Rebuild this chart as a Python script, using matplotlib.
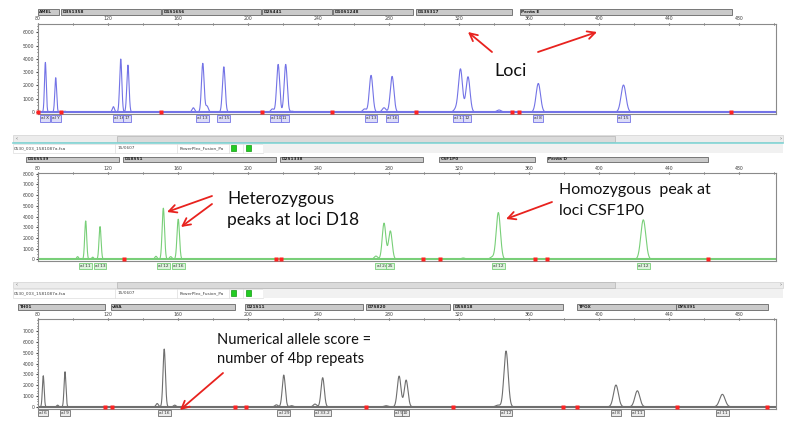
import numpy as np
import matplotlib
matplotlib.use('Agg')
import matplotlib.pyplot as plt
from matplotlib.patches import Rectangle
from matplotlib.ticker import MultipleLocator

# --- data (bp positions, RFU heights) ---

# blue dye panel
loci1 = ['AMEL', 'D3S1358', 'D1S1656', 'D2S441', 'D10S1248', 'D13S317', 'Penta E']
loci1_start = [80.0, 93.0, 151.0, 208.0, 248.5, 295.6, 355.0]
loci1_end = [92.0, 150.0, 207.0, 247.5, 294.0, 350.4, 476.0]
peaks1 = [84.2, 90.1, 127.2, 131.3, 174.0, 186.0, 217.0, 221.3, 270.0, 282.0, 321.0, 325.3, 365.4, 414.0]
heights1 = [3730, 2580, 3985, 3530, 3660, 3400, 3580, 3580, 2760, 2680, 3230, 2650, 2150, 2030]
alleles1 = ['al X', 'al Y', 'al 16', '17', 'al 13', 'al 15', 'al 10', '11', 'al 13', 'al 16', 'al 11', '12', 'al 8', 'al 15']
stutter1 = [95.4, 123.0, 168.6, 176.4, 213.7, 225.0, 266.3, 277.4, 318.4, 343.0]
stutter1_h = [60, 400, 320, 450, 230, 60, 230, 320, 230, 150]
bins1 = [80.0, 93.4, 150.4, 207.6, 248.0, 295.4, 350.2, 354.6, 475.3]

# green dye panel
loci2 = ['D16S539', 'D18S51', 'D2S1338', 'CSF1P0', 'Penta D']
loci2_start = [73.2, 128.5, 218.0, 308.7, 370.4]
loci2_end = [126.2, 215.8, 299.6, 363.5, 462.2]
peaks2 = [107.2, 115.4, 151.5, 160.0, 277.4, 281.0, 342.6, 425.3]
heights2 = [3590, 3060, 4780, 3750, 3380, 2650, 4370, 3690]
alleles2 = ['al 11', 'al 13', 'al 12', 'al 16', 'al 24', '25', 'al 12', 'al 12']
stutter2 = [84.0, 102.6, 111.2, 147.3, 155.7, 272.8, 322.6, 339.0]
stutter2_h = [60, 250, 200, 280, 250, 300, 120, 200]
bins2 = [129.0, 215.8, 218.4, 299.4, 309.3, 363.5, 370.5, 462.0]

# yellow (black) dye panel
loci3 = ['TH01', 'vWA', 'D21S11', 'D7S820', 'D5S818', 'TPOX', 'DYS391']
loci3_start = [68.6, 121.6, 198.0, 267.1, 316.7, 387.5, 444.0]
loci3_end = [118.2, 192.4, 265.4, 315.0, 379.5, 444.0, 496.4]
peaks3 = [83.0, 95.4, 152.0, 220.2, 242.4, 286.0, 290.0, 347.0, 409.7, 421.9, 470.4]
heights3 = [2870, 3240, 5340, 2935, 2690, 2840, 2470, 5160, 2010, 1480, 1150]
alleles3 = ['al 6', 'al 9', 'al 16', 'al 29', 'al 33.2', 'al 9', '10', 'al 12', 'al 8', 'al 11', 'al 11']
stutter3 = [91.2, 148.0, 158.0, 216.0, 224.7, 238.0, 278.5, 342.4]
stutter3_h = [150, 300, 150, 180, 100, 250, 100, 150]
bins3 = [118.2, 122.0, 192.4, 198.6, 267.0, 317.0, 379.7, 387.3, 444.3, 496.0]

W, H = 800, 438
plt.rcParams['font.family'] = ['DejaVu Sans']
fig = plt.figure(figsize=(8, 4.38), dpi=100)
fig.patch.set_facecolor('white')


def rect(l, t, r, b):
    return [l / W, 1 - b / H, (r - l) / W, (b - t) / H]


panels = [
    dict(box=(38, 24, 776, 114), ylim=(-150, 6620), ymax=6000, col='#7373e6', light='#dcdcf8',
         loci=(loci1, loci1_start, loci1_end), peaks=peaks1, heights=heights1, alleles=alleles1,
         stut=(stutter1, stutter1_h), bins=bins1, bar=(9.3, 15.3), lab=4.5),
    dict(box=(38, 173, 776, 261), ylim=(-160, 8070), ymax=8000, col='#78cf78', light='#dcf3dc',
         loci=(loci2, loci2_start, loci2_end), peaks=peaks2, heights=heights2, alleles=alleles2,
         stut=(stutter2, stutter2_h), bins=bins2, bar=(156.7, 162.3), lab=5.0),
    dict(box=(38, 319, 776, 408.5), ylim=(-160, 8120), ymax=7000, col='#6e6e6e', light='#ececec',
         loci=(loci3, loci3_start, loci3_end), peaks=peaks3, heights=heights3, alleles=alleles3,
         stut=(stutter3, stutter3_h), bins=bins3, bar=(304.3, 310.0), lab=4.8),
]

xs = np.arange(80, 501.01, 0.05)

for p in panels:
    l, t, r, b = p['box']
    ax = fig.add_axes(rect(l, t, r, b))
    trace = np.zeros_like(xs)
    for pos, h in zip(p['peaks'] + p['stut'][0], p['heights'] + p['stut'][1]):
        s = 0.5 + (pos - 84) * 0.0027   # peaks broaden with fragment size
        trace += h * np.exp(-(xs - pos) ** 2 / (2 * s * s))
    ax.plot(xs, trace, color=p['col'], lw=0.8)
    ax.axhline(0, color=p['col'], lw=1.5)
    ax.plot(p['bins'], [0] * len(p['bins']), 's', color='#ff2222', ms=2.2, mec='none',
            clip_on=False, zorder=5)
    ax.set_xlim(80, 501)
    ax.set_ylim(*p['ylim'])

    ax.xaxis.tick_top()
    ax.set_xticks(range(80, 481, 40))
    ax.xaxis.set_minor_locator(MultipleLocator(20))
    ax.tick_params(axis='x', which='major', labelsize=3.3, length=2, direction='inout',
                   pad=0.8, colors='#404040')
    ax.tick_params(axis='x', which='minor', length=2, direction='inout', colors='#404040')
    ax.set_yticks(range(0, p['ymax'] + 1, 1000))
    ax.yaxis.set_minor_locator(MultipleLocator(250))
    ax.tick_params(axis='y', which='major', labelsize=3.3, length=1.8, pad=0.8, colors='#404040')
    ax.tick_params(axis='y', which='minor', length=0.9, colors='#404040')
    for sp in ax.spines.values():
        sp.set_color('#8a8a8a')
        sp.set_linewidth(0.8)

    tr = ax.get_xaxis_transform()
    hpx = b - t
    f_lo = (b - p['bar'][1]) / hpx
    f_hi = (b - p['bar'][0]) / hpx
    for name, s0, s1 in zip(*p['loci']):
        ax.add_patch(Rectangle((s0, f_lo), s1 - s0, f_hi - f_lo, transform=tr, clip_on=False,
                               fc='#cacaca', ec='#666666', lw=0.6))
        ax.text(s0 + 0.8, (f_lo + f_hi) / 2, name, transform=tr, fontsize=3.1,
                fontweight='bold', va='center', ha='left', color='#222222', clip_on=False)

    # allele call boxes under the peaks
    pk, al = p['peaks'], p['alleles']
    for i, (pos, txt) in enumerate(zip(pk, al)):
        ha, xpos = 'center', pos
        if not txt.startswith('al'):
            ha, xpos = 'left', (pk[i - 1] + pos) / 2
        elif i + 1 < len(al) and not al[i + 1].startswith('al'):
            ha, xpos = 'right', (pos + pk[i + 1]) / 2
        ax.annotate(txt, xy=(xpos, 0), xycoords=tr, xytext=(0, -p['lab']),
                    textcoords='offset pixels', ha=ha, va='center', fontsize=3.1,
                    color='#333333', annotation_clip=False,
                    bbox=dict(boxstyle='square,pad=0.25', fc=p['light'], ec=p['col'], lw=0.6))

# --- window chrome and annotations in pixel coordinates ---
ov = fig.add_axes([0, 0, 1, 1], zorder=10)
ov.set_xlim(0, W)
ov.set_ylim(H, 0)
ov.axis('off')
ov.patch.set_alpha(0)

for sy0, sy1, hy0, hy1, teal in [(135, 142.3, 144, 152.5, True), (281.5, 288.3, 289, 297.5, False)]:
    ov.add_patch(Rectangle((13, sy0), 770, sy1 - sy0, fc='#ececec', ec='#d2d2d2', lw=0.5))
    ov.add_patch(Rectangle((117, sy0 + 0.8), 498, sy1 - sy0 - 1.6, fc='#dadada', ec='#b5b5b5', lw=0.5))
    ov.text(16, (sy0 + sy1) / 2, '\u2039', fontsize=3.5, va='center', color='#555555')
    ov.text(779, (sy0 + sy1) / 2, '\u203a', fontsize=3.5, va='center', color='#555555')
    if teal:
        ov.plot([13, 783], [143.3, 143.3], color='#7fd3d3', lw=1.2)
    ov.add_patch(Rectangle((13, hy0), 250, hy1 - hy0, fc='white', ec='#dddddd', lw=0.5))
    ov.add_patch(Rectangle((263, hy0), 520, hy1 - hy0, fc='#f1f1f1', ec='none'))
    for cx in [115, 177, 229, 243]:
        ov.plot([cx, cx], [hy0, hy1], color='#dddddd', lw=0.5)
    ym = (hy0 + hy1) / 2
    ov.text(14, ym, '0530_003_1581087a.fsa', fontsize=3.1, va='center', color='#444444')
    ov.text(118, ym, '15/0607', fontsize=3.1, va='center', color='#444444')
    ov.text(180, ym, 'PowerPlex_Fusion_Pa', fontsize=3.1, va='center', color='#444444')
    for gx in [231, 246]:
        ov.add_patch(Rectangle((gx, hy0 + 1.3), 5, hy1 - hy0 - 2.6, fc='#22cc22', ec='#119911', lw=0.5))

red = '#e8221e'
arrow = dict(arrowstyle='->,head_length=0.55,head_width=0.28', color=red, lw=1.3,
             shrinkA=0, shrinkB=0)
note_font = ['Lato', 'DejaVu Sans']

ov.text(494, 76, 'Loci', fontsize=13, family=note_font, color='#111111')
ov.annotate('', xy=(468, 32), xytext=(492, 52), arrowprops=arrow)
ov.annotate('', xy=(597, 32), xytext=(538, 52), arrowprops=arrow)

ov.text(227, 204, 'Heterozygous', fontsize=12.5, family=note_font, color='#111111')
ov.text(227, 225, 'peaks at loci D18', fontsize=12.5, family=note_font, color='#111111')
ov.annotate('', xy=(167, 212), xytext=(212, 196), arrowprops=arrow)
ov.annotate('', xy=(181, 227), xytext=(212, 204), arrowprops=arrow)

ov.text(559, 194, 'Homozygous  peak at', fontsize=11.5, family=note_font, color='#111111')
ov.text(559, 215, 'loci CSF1P0', fontsize=11.5, family=note_font, color='#111111')
ov.annotate('', xy=(506, 219), xytext=(552, 202), arrowprops=arrow)

ov.text(217, 344.3, 'Numerical allele score =', fontsize=10.5, family=note_font, color='#111111')
ov.text(217, 363.3, 'number of 4bp repeats', fontsize=10.5, family=note_font, color='#111111')
ov.annotate('', xy=(180, 410), xytext=(223, 373), arrowprops=arrow)

fig.savefig('out.png', dpi=100, facecolor='white')
